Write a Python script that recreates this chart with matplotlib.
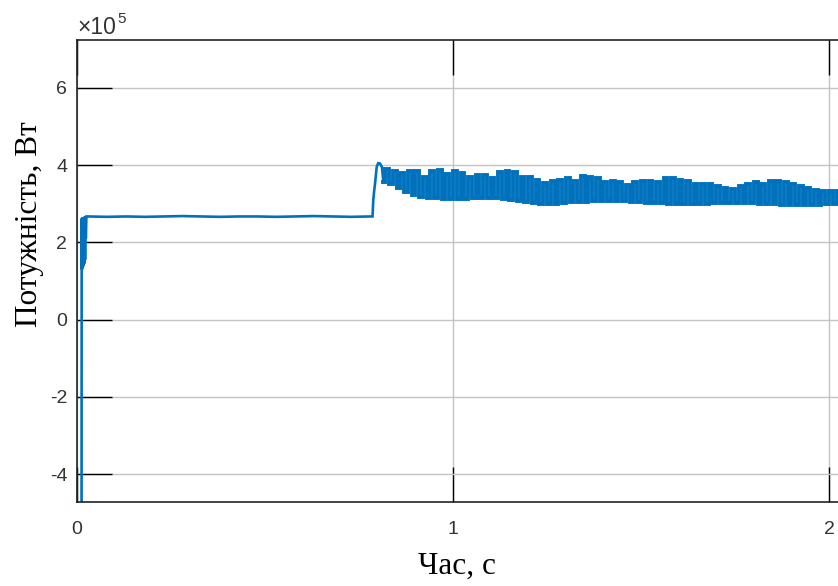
import numpy as np
import matplotlib
matplotlib.use("Agg")
import matplotlib.pyplot as plt

# ---------------- data (values in units of 1e5 W) ----------------
# start-up transient
start_t = [0.0120, 0.0125, 0.0135, 0.0145, 0.0155, 0.0165, 0.0175, 0.0185, 0.0195,
           0.0205, 0.0215, 0.0225, 0.0235, 0.0250]
start_p = [-8.0, 2.62, 1.30, 2.64, 1.35, 2.65, 1.40, 2.66, 1.45,
           2.66, 1.55, 2.67, 2.10, 2.67]
# flat steady part
flat_t = [0.03, 0.08, 0.13, 0.18, 0.23, 0.28, 0.33, 0.38, 0.43, 0.48,
          0.53, 0.58, 0.63, 0.68, 0.73, 0.78, 0.786]
flat_p = [2.67, 2.66, 2.67, 2.66, 2.67, 2.68, 2.67, 2.66, 2.67, 2.67,
          2.66, 2.67, 2.68, 2.67, 2.66, 2.67, 2.67]
# step up at load change
step_t = [0.788, 0.790, 0.793, 0.797, 0.801, 0.806, 0.811, 0.815]
step_p = [3.10, 3.30, 3.55, 3.95, 4.05, 4.04, 3.95, 3.55]
# oscillating part: upper / lower values of each switching cycle
osc_t = [0.82, 0.84, 0.86, 0.88, 0.90, 0.92, 0.94, 0.96, 0.98, 1.00,
         1.02, 1.04, 1.06, 1.08, 1.10, 1.12, 1.14, 1.16, 1.18, 1.20,
         1.22, 1.24, 1.26, 1.28, 1.30, 1.32, 1.34, 1.36, 1.38, 1.40,
         1.42, 1.44, 1.46, 1.48, 1.50, 1.52, 1.54, 1.56, 1.58, 1.60,
         1.62, 1.64, 1.66, 1.68, 1.70, 1.72, 1.74, 1.76, 1.78, 1.80,
         1.82, 1.84, 1.86, 1.88, 1.90, 1.92, 1.94, 1.96, 1.98, 2.00,
         2.02, 2.04]
osc_hi = [3.90, 3.86, 3.80, 3.84, 3.85, 3.70, 3.86, 3.87, 3.78, 3.86,
          3.80, 3.70, 3.74, 3.74, 3.66, 3.82, 3.84, 3.82, 3.70, 3.68,
          3.62, 3.54, 3.60, 3.62, 3.66, 3.60, 3.71, 3.70, 3.66, 3.56,
          3.58, 3.56, 3.48, 3.56, 3.58, 3.60, 3.56, 3.67, 3.66, 3.62,
          3.58, 3.50, 3.52, 3.50, 3.46, 3.42, 3.38, 3.45, 3.50, 3.55,
          3.50, 3.60, 3.60, 3.56, 3.50, 3.45, 3.40, 3.36, 3.33, 3.32,
          3.33, 3.33]
osc_lo = [3.50, 3.40, 3.30, 3.22, 3.18, 3.16, 3.14, 3.12, 3.12, 3.12,
          3.13, 3.15, 3.16, 3.16, 3.15, 3.13, 3.10, 3.07, 3.04, 3.02,
          3.00, 2.99, 3.00, 3.02, 3.04, 3.05, 3.05, 3.06, 3.07, 3.07,
          3.07, 3.06, 3.05, 3.04, 3.03, 3.02, 3.01, 3.00, 2.99, 2.98,
          2.98, 2.99, 3.00, 3.01, 3.02, 3.03, 3.03, 3.02, 3.01, 3.00,
          2.99, 2.98, 2.97, 2.96, 2.96, 2.96, 2.96, 2.97, 2.98, 2.99,
          3.00, 3.00]

x_ticks = [0, 1, 2]
y_ticks = [-4, -2, 0, 2, 4, 6]
x_label = "Час, с"
y_label = "Потужність, Вт"

# ---------------- assemble trace ----------------
t_main = np.array(list(start_t) + list(flat_t) + list(step_t))
p_main = np.array(list(start_p) + list(flat_p) + list(step_p)) * 1e5
t_osc, p_osc = [step_t[-1]], [step_p[-1]]
half = 0.01
for t, hi, lo in zip(osc_t, osc_hi, osc_lo):
    t_osc += [t, t + half]
    p_osc += [hi, lo]
t_osc = np.array(t_osc)
p_osc = np.array(p_osc) * 1e5

# ---------------- figure ----------------
W, H = 838, 586
fig = plt.figure(figsize=(W / 100, H / 100), dpi=100)
left_px, top_px, bot_px = 77, 40, 502
xmax = 2.05
px_per = 376.0
right_px = left_px + xmax * px_per
ax = fig.add_axes([left_px / W, 1 - bot_px / H, (right_px - left_px) / W, (bot_px - top_px) / H])

blue = "#0072BD"
ax.plot(t_main, p_main, color=blue, lw=1.9, solid_joinstyle="miter")
ax.plot(t_osc, p_osc, color=blue, lw=2.8, drawstyle="steps-post", solid_joinstyle="miter")

ax.set_xlim(0, xmax)
ax.set_ylim(-4.725e5, 7.24e5)
ax.set_xticks(x_ticks)
ax.set_yticks([v * 1e5 for v in y_ticks])
ax.set_xticklabels([str(v) for v in x_ticks])
ax.set_yticklabels([str(v) for v in y_ticks])

ax.grid(True, color="#c4c4c4", lw=1.0)
ax.set_axisbelow(True)
tick_len = 35 / 1.389
ax.tick_params(axis="both", direction="in", length=tick_len, width=1.0, color="black",
               labelsize=14, labelcolor="#333333", top=True, right=False)
ax.tick_params(axis="x", pad=14)
ax.tick_params(axis="y", pad=7)
for lab in ax.get_xticklabels() + ax.get_yticklabels():
    lab.set_fontfamily("Liberation Sans")
for s in ax.spines.values():
    s.set_color("#222222")
    s.set_linewidth(1.2)
ax.spines["right"].set_visible(False)

# exponent marker
fig.text(77 / W, 1 - 34 / H, "×10", fontsize=16.5, family="Liberation Sans",
         color="#333333", ha="left", va="baseline")
fig.text(117 / W, 1 - 23 / H, "5", fontsize=11, family="Liberation Sans",
         color="#333333", ha="left", va="baseline")

# axis labels
fig.text(457 / W, 1 - 566 / H, x_label, fontsize=22.5, family="Liberation Serif",
         color="black", ha="center", va="center")
fig.text(30 / W, 1 - 224 / H, y_label, fontsize=22.5, family="Liberation Serif",
         color="black", ha="center", va="center", rotation=90)

fig.savefig("out.png", dpi=100)
